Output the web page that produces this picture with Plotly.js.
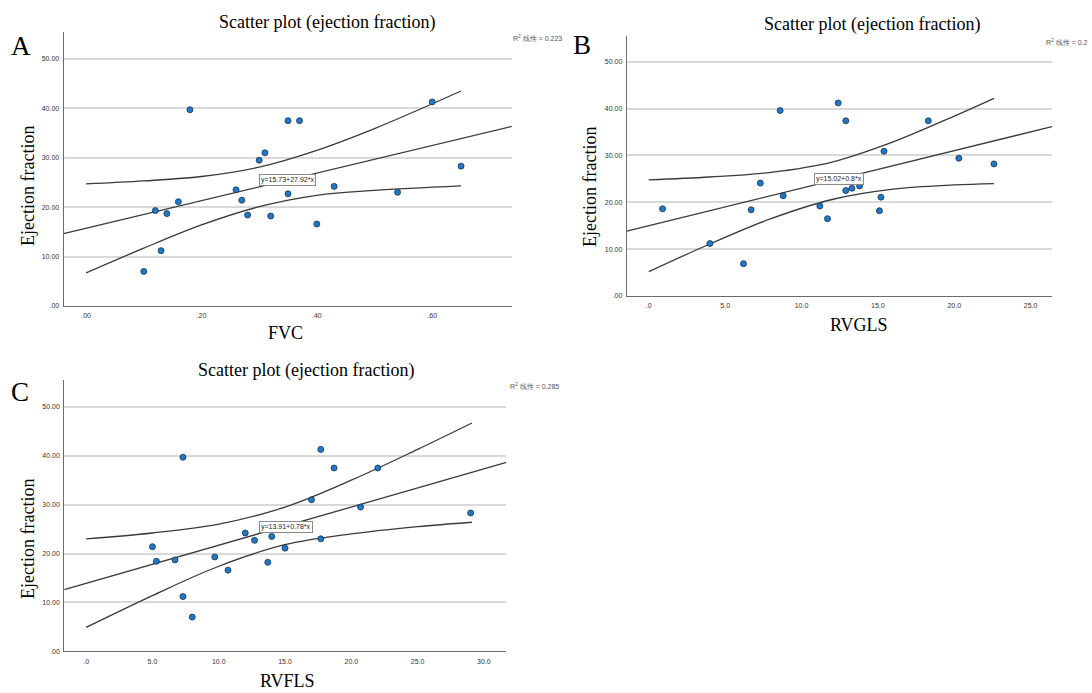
<!DOCTYPE html>
<html>
<head>
<meta charset="utf-8">
<script src="https://cdn.plot.ly/plotly-3.0.1.min.js"></script>
<style>html,body{margin:0;padding:0;background:#fff;}#chart{width:1092px;height:693px;}</style>
</head>
<body>
<div id="chart"></div>
<script>
// ---------- Data ----------
// Panel A: FVC vs Ejection fraction
const fvc = [0.10,0.12,0.13,0.14,0.16,0.18,0.26,0.27,0.28,0.30,0.31,0.32,0.35,0.35,0.37,0.40,0.43,0.54,0.60,0.65];
const efA = [7.0,19.3,11.2,18.7,21.1,39.7,23.5,21.4,18.4,29.5,31.0,18.2,37.5,22.7,37.5,16.6,24.2,23.0,41.3,28.3];
const fitA = {intercept: 15.73, slope: 27.92};
const bandXA = [0,0.1,0.2,0.3,0.4,0.5,0.65];
const bandUpA = [24.7,25.3,26.2,28.1,31.5,35.9,43.5];
const bandLoA = [6.7,11.7,16.4,20.1,22.4,23.4,24.3];
const eqA = "y=15.73+27.92*x";
const r2A = "R<sup>2</sup> 线性 = 0.223";

// Panel B: RVGLS vs Ejection fraction
const rvgls = [0.9,4.0,6.2,6.7,7.3,8.6,8.8,11.2,11.7,12.4,12.9,12.9,13.3,13.8,15.1,15.2,15.4,18.3,20.3,22.6];
const efB = [18.6,11.2,6.9,18.4,24.1,39.6,21.4,19.2,16.5,41.2,37.4,22.5,23.0,23.5,18.2,21.1,30.9,37.4,29.4,28.2];
const fitB = {intercept: 15.02, slope: 0.8};
const bandXB = [0,4,8,12,16,20,22.6];
const bandUpB = [24.8,25.4,26.4,28.6,32.9,38.4,42.2];
const bandLoB = [5.2,11.1,16.5,20.6,22.8,23.7,24.0];
const eqB = "y=15.02+0.8*x";
const r2B = "R<sup>2</sup> 线性 = 0.2";

// Panel C: RVFLS vs Ejection fraction
const rvfls = [5.0,5.3,6.7,7.3,7.3,8.0,9.7,10.7,12.0,12.7,13.7,14.0,15.0,17.0,17.7,17.7,18.7,20.7,22.0,29.0];
const efC = [21.4,18.4,18.7,39.7,11.2,7.0,19.3,16.6,24.2,22.7,18.2,23.5,21.1,31.0,41.3,23.0,37.5,29.5,37.5,28.3];
const fitC = {intercept: 13.91, slope: 0.78};
const bandXC = [0,5,10,15,20,25,29.1];
const bandUpC = [23.0,24.2,26.0,29.5,35.0,41.3,46.7];
const bandLoC = [4.9,11.4,17.4,21.8,24.0,25.5,26.4];
const eqC = "y=13.91+0.78*x";
const r2C = "R<sup>2</sup> 线性 = 0.285";

// Tick labels
const yTickVals = [0,10,20,30,40,50];
const yTickText = [".00","10.00","20.00","30.00","40.00","50.00"];
const xTickValsA = [0,0.2,0.4,0.6];
const xTickTextA = [".00",".20",".40",".60"];
const xTickValsB = [0,5,10,15,20,25];
const xTickTextB = [".0","5.0","10.0","15.0","20.0","25.0"];
const xTickValsC = [0,5,10,15,20,25,30];
const xTickTextC = [".0","5.0","10.0","15.0","20.0","25.0","30.0"];

const panelTitle = "Scatter plot (ejection fraction)";
const yTitle = "Ejection fraction";
const xTitles = ["FVC","RVGLS","RVFLS"];
const panelLetters = ["A","B","C"];

// ---------- Styling / layout ----------
const W = 1092, H = 693;
const px = v => v / W;
const py = v => 1 - v / H;
const SERIF = "Liberation Serif, Times New Roman, serif";
const SANS = "Liberation Sans, Arial, sans-serif";
const lineStyle = {color: "#3a3a3a", width: 1.3};
const markerStyle = {color: "#1f78c8", size: 6, line: {color: "#17324f", width: 0.8}};

const xRanges = [[-0.039, 0.738], [-1.44, 26.4], [-1.65, 31.7]];
const yRange = [0, 55.5];

function panelTraces(xs, ys, fit, bx, bu, bl, xa, ya, xr) {
  const fx = [xr[0], xr[1]];
  const fy = fx.map(v => fit.intercept + fit.slope * v);
  return [
    {x: bx, y: bu, type: "scatter", mode: "lines", line: Object.assign({shape: "spline", smoothing: 1}, lineStyle), xaxis: xa, yaxis: ya, hoverinfo: "skip"},
    {x: bx, y: bl, type: "scatter", mode: "lines", line: Object.assign({shape: "spline", smoothing: 1}, lineStyle), xaxis: xa, yaxis: ya, hoverinfo: "skip"},
    {x: fx, y: fy, type: "scatter", mode: "lines", line: lineStyle, xaxis: xa, yaxis: ya, hoverinfo: "skip"},
    {x: xs, y: ys, type: "scatter", mode: "markers", marker: markerStyle, xaxis: xa, yaxis: ya}
  ];
}

const data = [].concat(
  panelTraces(fvc, efA, fitA, bandXA, bandUpA, bandLoA, "x", "y", xRanges[0]),
  panelTraces(rvgls, efB, fitB, bandXB, bandUpB, bandLoB, "x2", "y2", xRanges[1]),
  panelTraces(rvfls, efC, fitC, bandXC, bandUpC, bandLoC, "x3", "y3", xRanges[2])
);

function xAxis(domain, anchor, range, tv, tt) {
  return {domain: domain, anchor: anchor, range: range, tickvals: tv, ticktext: tt,
    showgrid: false, zeroline: false, showline: true, linecolor: "#6b6b6b", linewidth: 1,
    ticks: "", ticklabelstandoff: 3, tickfont: {family: SANS, size: 7, color: "#333"}, fixedrange: true};
}
function yAxis(domain, anchor) {
  return {domain: domain, anchor: anchor, range: yRange, tickvals: yTickVals, ticktext: yTickText,
    showgrid: true, gridcolor: "#d9d9d9", gridwidth: 2, zeroline: false, showline: true,
    linecolor: "#6b6b6b", linewidth: 1, ticks: "", ticklabelstandoff: 2,
    tickfont: {family: SANS, size: 7, color: "#333"}, fixedrange: true};
}

function txt(text, x, y, size, family, extra) {
  return Object.assign({text: text, x: px(x), y: py(y), xref: "paper", yref: "paper",
    xanchor: "center", yanchor: "middle", showarrow: false,
    font: {family: family, size: size, color: "#000"}}, extra || {});
}
function eqBox(text, x, y, xref, yref) {
  return {text: text, x: x, y: y, xref: xref, yref: yref, showarrow: false,
    xanchor: "center", yanchor: "middle", bgcolor: "#fff", bordercolor: "#8a8a8a",
    borderwidth: 1, borderpad: 1, font: {family: SANS, size: 7, color: "#222"}};
}
const r2Font = {family: SANS, size: 7, color: "#555"};

const annotations = [
  // titles
  txt(panelTitle, 327, 22, 18, SERIF),
  txt(panelTitle, 872, 25, 18, SERIF),
  txt(panelTitle, 306, 370, 18, SERIF),
  // letters
  txt(panelLetters[0], 21, 46, 27, SERIF),
  txt(panelLetters[1], 582, 45, 27, SERIF),
  txt(panelLetters[2], 20, 392, 27, SERIF),
  // y titles
  txt(yTitle, 28, 186, 18, SERIF, {textangle: -90}),
  txt(yTitle, 590, 187, 18, SERIF, {textangle: -90}),
  txt(yTitle, 28, 539, 18, SERIF, {textangle: -90}),
  // x titles
  txt(xTitles[0], 285, 333, 18, SERIF),
  txt(xTitles[1], 859, 325, 18, SERIF),
  txt(xTitles[2], 287, 681, 18, SERIF),
  // R2 labels
  txt(r2A, 511, 38, 7, SANS, {xanchor: "left", font: r2Font}),
  txt(r2B, 1090, 42, 7, SANS, {xanchor: "right", font: r2Font}),
  txt(r2C, 508, 386, 7, SANS, {xanchor: "left", font: r2Font}),
  // equation boxes
  eqBox(eqA, 0.349, 25.4, "x", "y"),
  eqBox(eqB, 12.45, 24.96, "x2", "y2"),
  eqBox(eqC, 15.07, 25.46, "x3", "y3")
];

const layout = {
  width: W, height: H, margin: {l: 0, r: 0, t: 0, b: 0},
  paper_bgcolor: "#fff", plot_bgcolor: "#fff", showlegend: false,
  xaxis: xAxis([px(63.6), px(511.8)], "y", xRanges[0], xTickValsA, xTickTextA),
  yaxis: yAxis([py(306), py(31.7)], "x"),
  xaxis2: xAxis([px(626.8), px(1052)], "y2", xRanges[1], xTickValsB, xTickTextB),
  yaxis2: yAxis([py(296), py(36)], "x2"),
  xaxis3: xAxis([px(64.3), px(506.4)], "y3", xRanges[2], xTickValsC, xTickTextC),
  yaxis3: yAxis([py(651.3), py(380)], "x3"),
  annotations: annotations
};

Plotly.newPlot("chart", data, layout, {displayModeBar: false, staticPlot: true});
</script>
</body>
</html>
